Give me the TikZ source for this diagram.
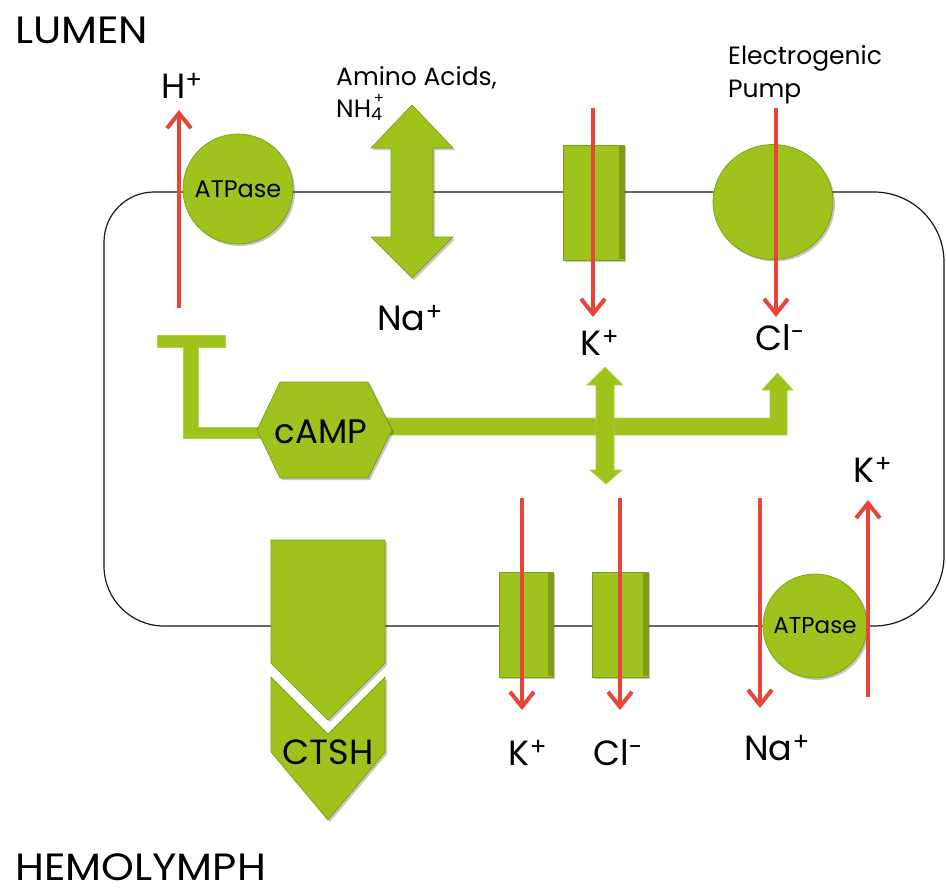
\documentclass[tikz,border=0pt]{standalone}
\usepackage{fontspec}
\setmainfont{Poppins}
\usetikzlibrary{arrows.meta,shadows,shapes.geometric}
\definecolor{lime}{HTML}{9EC31C}
\definecolor{limedark}{HTML}{7E9C14}
\definecolor{ionred}{HTML}{E8453A}
\begin{document}
\begin{tikzpicture}[x=1pt,y=1pt,
  gshape/.style={fill=lime, draw=limedark, line width=0.7pt,
    drop shadow={shadow xshift=2pt,shadow yshift=-2pt,fill=black,opacity=0.22}},
  gflat/.style={fill=lime, draw=lime!80!white, line width=0.6pt},
  flow/.style={draw=ionred, line width=4pt, -{Straight Barb[length=15pt,width=24pt]}},
  membrane/.style={draw=black!90, line width=1.2pt},
  big/.style={inner sep=0pt, font=\fontsize{38}{41}\selectfont},
  ion/.style={inner sep=0pt, font=\fontsize{35}{40}\selectfont},
  small/.style={inner sep=0pt, font=\fontsize{25}{28}\selectfont},
]
\useasboundingbox (0,0) rectangle (946,-895);

% titles
\node[big, anchor=base west, xscale=1.1] (lumen) at (15,-43) {LUMEN};
\node[big, anchor=base west, xscale=1.1] (hemo) at (15,-880) {HEMOLYMPH};

% membrane
\draw[membrane] (154,-192) -- (874,-192) arc[start angle=90,end angle=0,radius=70]
  -- (944,-556) arc[start angle=0,end angle=-90,radius=70]
  -- (164,-626) arc[start angle=270,end angle=180,radius=60]
  -- (104,-242) arc[start angle=180,end angle=90,radius=50];

% top membrane proteins
\node[circle, gshape, minimum size=110pt, inner sep=0pt, font=\fontsize{24}{26}\selectfont] (atp1) at (238,-189) {ATPase};
\filldraw[gshape] (412,-105) -- (453,-148) -- (433,-148) -- (433,-237) -- (453,-237)
  -- (412,-278) -- (371,-237) -- (391,-237) -- (391,-148) -- (371,-148) -- cycle;
\filldraw[gshape] (563,-145) rectangle (624,-260);
\fill[limedark] (619,-146) rectangle (623.5,-259);
\node[ellipse, gshape, minimum width=120pt, minimum height=115pt, inner sep=0pt] (pump) at (773,-202) {};

% cAMP pathway
\filldraw[gflat] (157,-335) -- (225,-335) -- (225,-347) -- (198,-347) -- (198,-427)
  -- (266,-427) -- (266,-438) -- (183,-438) -- (183,-347) -- (157,-347) -- cycle;
\filldraw[gflat] (380,-418) -- (770,-418) -- (770,-390) -- (762,-390) -- (777.5,-373)
  -- (793,-390) -- (787,-390) -- (787,-435) -- (380,-435) -- cycle;
\filldraw[gflat] (605,-367) -- (623,-385) -- (614,-385) -- (614,-470) -- (622,-470)
  -- (606,-484) -- (590,-470) -- (596,-470) -- (596,-385) -- (587,-385) -- cycle;
\filldraw[gshape] (257,-430) -- (280,-382) -- (368,-382) -- (392,-430) -- (368,-478) -- (280,-478) -- cycle;
\node[inner sep=0pt, font=\fontsize{34}{36}\selectfont] (camp) at (321,-432) {cAMP};

% bottom membrane proteins
\filldraw[gshape] (271,-540) -- (385,-540) -- (385,-663) -- (328,-720) -- (271,-663) -- cycle;
\filldraw[gshape] (271,-677) -- (328,-734) -- (385,-677) -- (385,-752) -- (328,-820) -- (271,-752) -- cycle;
\node[inner sep=0pt, font=\fontsize{35}{38}\selectfont] (ctsh) at (328,-752) {CTSH};
\filldraw[gshape] (499,-572) rectangle (553,-677);
\fill[limedark] (548,-573) rectangle (552.5,-676);
\filldraw[gshape] (592,-572) rectangle (648,-677);
\fill[limedark] (643,-573) rectangle (647.5,-676);
\node[circle, gshape, minimum size=104pt, inner sep=0pt, font=\fontsize{23}{26}\selectfont] (atp2) at (815,-626) {ATPase};

% labels
\node[ion, anchor=base] (hplus) at (182,-98) {H\textsuperscript{+}};
\node[small, anchor=base west] (amino) at (336,-85) {Amino Acids,};
\node[small, anchor=base west] (nh4) at (336,-117) {NH\textsubscript{4}\kern-0.35em\raisebox{0.55em}{\fontsize{15}{16}\selectfont+}};
\node[small, anchor=base west] (electro) at (728,-64) {Electrogenic};
\node[small, anchor=base west] (pumplbl) at (728,-97) {Pump};
\node[ion, anchor=base] (na1) at (410,-330) {Na\textsuperscript{+}};
\node[ion, anchor=base] (k1) at (600,-355) {K\textsuperscript{+}};
\node[ion, anchor=base] (cl1) at (780,-350) {Cl\textsuperscript{-}};
\node[ion, anchor=base] (k2) at (528,-765) {K\textsuperscript{+}};
\node[ion, anchor=base] (cl2) at (618,-765) {Cl\textsuperscript{-}};
\node[ion, anchor=base] (na2) at (777,-760) {Na\textsuperscript{+}};
\node[ion, anchor=base] (k3) at (873,-482) {K\textsuperscript{+}};

% red ion flows
\coordinate (hS) at (179,-308);  \coordinate (hE) at (179,-110);
\coordinate (k1S) at (593,-108); \coordinate (k1E) at (593,-317);
\coordinate (c1S) at (776,-108); \coordinate (c1E) at (776,-317);
\coordinate (k2S) at (522,-498); \coordinate (k2E) at (522,-710);
\coordinate (c2S) at (620,-498); \coordinate (c2E) at (620,-710);
\coordinate (n2S) at (760,-498); \coordinate (n2E) at (760,-708);
\coordinate (k3S) at (868,-697); \coordinate (k3E) at (868,-500);
\draw[flow] (hS) -- (hE);
\draw[flow] (k1S) -- (k1E);
\draw[flow] (c1S) -- (c1E);
\draw[flow] (k2S) -- (k2E);
\draw[flow] (c2S) -- (c2E);
\draw[flow] (n2S) -- (n2E);
\draw[flow] (k3S) -- (k3E);
\end{tikzpicture}
\end{document}
